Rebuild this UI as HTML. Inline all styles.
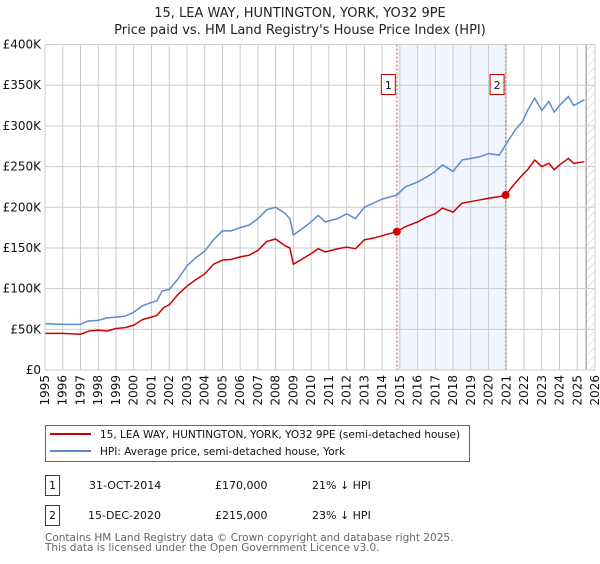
<!DOCTYPE html>
<html><head><meta charset="utf-8">
<style>
body{margin:0;background:#fff;font-family:"DejaVu Sans","Liberation Sans",sans-serif;}
svg text{font-family:"DejaVu Sans","Liberation Sans",sans-serif;}
</style></head>
<body>
<svg width="600" height="560" viewBox="0 0 600 560" xmlns="http://www.w3.org/2000/svg">
<defs>
<pattern id="hatch" width="6" height="6" patternUnits="userSpaceOnUse" patternTransform="rotate(45)">
<line x1="0" y1="0" x2="0" y2="6" stroke="#ccc" stroke-width="1"/>
</pattern>
</defs>
<text x="300" y="17" text-anchor="middle" font-size="13" fill="#222">15, LEA WAY, HUNTINGTON, YORK, YO32 9PE</text>
<text x="300" y="34" text-anchor="middle" font-size="13" fill="#222">Price paid vs. HM Land Registry's House Price Index (HPI)</text>
<g id="plot"></g>
<g id="legend">
<rect x="45.5" y="425.5" width="424" height="36" fill="#fff" stroke="#666"/>
<line x1="50" y1="434" x2="91" y2="434" stroke="#cc0000" stroke-width="2"/>
<text x="100" y="438" font-size="10.5" fill="#111">15, LEA WAY, HUNTINGTON, YORK, YO32 9PE (semi-detached house)</text>
<line x1="50" y1="451" x2="91" y2="451" stroke="#5b8bd0" stroke-width="2"/>
<text x="100" y="455" font-size="10.5" fill="#111">HPI: Average price, semi-detached house, York</text>
</g>
<g font-size="11" fill="#111">
<rect x="45.5" y="475.5" width="14" height="20" fill="#fff" stroke="#cc0000"/>
<text x="52.5" y="489" text-anchor="middle">1</text>
<text x="89" y="489">31-OCT-2014</text>
<text x="215" y="489">£170,000</text>
<text x="312" y="489">21% ↓ HPI</text>
<rect x="45.5" y="505.5" width="14" height="20" fill="#fff" stroke="#cc0000"/>
<text x="52.5" y="519" text-anchor="middle">2</text>
<text x="88" y="519">15-DEC-2020</text>
<text x="215" y="519">£215,000</text>
<text x="312" y="519">23% ↓ HPI</text>
</g>
<text x="45" y="541" font-size="10.5" fill="#666">Contains HM Land Registry data © Crown copyright and database right 2025.</text>
<text x="45" y="551" font-size="10.5" fill="#666">This data is licensed under the Open Government Licence v3.0.</text>
</svg>
<script>
const hpiYears=[1995,1996,1997,1997.4,1998,1998.5,1999,1999.5,2000,2000.5,2001,2001.3,2001.6,2002,2002.5,2003,2003.5,2004,2004.5,2005,2005.5,2006,2006.5,2007,2007.5,2008,2008.5,2008.8,2009,2009.4,2010,2010.4,2010.8,2011.5,2012,2012.5,2013,2013.5,2014,2014.83,2015.3,2016,2016.5,2017,2017.4,2018,2018.5,2019,2019.5,2020,2020.6,2021,2021.5,2021.9,2022.2,2022.6,2023,2023.4,2023.7,2024,2024.5,2024.8,2025.4];
const hpiValues=[57,56,56,60,61,64,65,66,71,79,83,85,97,99,112,128,138,146,160,171,171,175,178,186,197,200,193,186,166,172,182,190,182,186,192,186,200,205,210,215,225,231,237,244,252,244,258,260,262,266,264,278,295,305,319,334,319,330,317,325,336,325,332];
const priceYears=[1995,1996,1997,1997.5,1998,1998.5,1999,1999.5,2000,2000.5,2001,2001.3,2001.7,2002,2002.5,2003,2003.5,2004,2004.5,2005,2005.5,2006,2006.5,2007,2007.5,2008,2008.5,2008.8,2009,2009.4,2010,2010.4,2010.8,2011.5,2012,2012.5,2013,2013.5,2014.83,2015.3,2016,2016.5,2017,2017.4,2018,2018.5,2019,2019.5,2020,2020.6,2020.96,2021.4,2021.8,2022.2,2022.6,2023,2023.4,2023.7,2024,2024.5,2024.8,2025.4];
const priceValues=[45,45,44,48,49,48,51,52,55,62,65,67,77,80,93,103,111,118,130,135,136,139,141,147,158,161,153,150,130,135,143,149,145,149,151,149,160,162,170,176,182,188,192,199,194,205,207,209,211,213,215,227,237,246,258,250,254,246,252,260,254,256];
const saleYears=[2014.83,2020.96];
const saleValues=[170,215];
const saleLabels=["1","2"];
const yTicks=[0,50,100,150,200,250,300,350,400];
const yTickLabels=["£0","£50K","£100K","£150K","£200K","£250K","£300K","£350K","£400K"];
const xTicks=[1995,1996,1997,1998,1999,2000,2001,2002,2003,2004,2005,2006,2007,2008,2009,2010,2011,2012,2013,2014,2015,2016,2017,2018,2019,2020,2021,2022,2023,2024,2025,2026];

const X0=45,X1=595,Y0=370,Y1=44.5,XMIN=1995,XMAX=2026,VMAX=400;
const xs=y=>X0+(y-XMIN)/(XMAX-XMIN)*(X1-X0);
const ys=v=>Y0-v/VMAX*(Y0-Y1);
const NS="http://www.w3.org/2000/svg";
const plot=document.getElementById('plot');
function mk(tag,attrs,parent){const e=document.createElementNS(NS,tag);for(const k in attrs)e.setAttribute(k,attrs[k]);(parent||plot).appendChild(e);return e;}

let bg=mk('rect',{x:X0,y:Y1,width:X1-X0,height:Y0-Y1,fill:'#fff'});


let shade=mk('rect',{x:xs(saleYears[0]),y:Y1,width:xs(saleYears[1])-xs(saleYears[0]),height:Y0-Y1,fill:'#eef3fc',opacity:0.8});


let hatch=mk('rect',{x:xs(2025.5),y:Y1,width:X1-xs(2025.5),height:Y0-Y1,fill:'url(#hatch)'});


let hl=mk('line',{x1:xs(2025.5),x2:xs(2025.5),y1:Y1,y2:Y0,stroke:'#888'});



xTicks.forEach((t,i)=>{
  const g=mk('line',{x1:xs(t),x2:xs(t),y1:Y1,y2:Y0,stroke:'#ccc','stroke-width':1});
  
  
  const tx=mk('text',{x:0,y:0,'font-size':12,fill:'#111','text-anchor':'end',transform:`translate(${xs(t)+4},${Y0+5}) rotate(-90)`});
  tx.textContent=t;
  
  
});
yTicks.forEach((t,i)=>{
  const g=mk('line',{x1:X0,x2:X1,y1:ys(t),y2:ys(t),stroke:'#ccc','stroke-width':1});
  
  
  const tx=mk('text',{x:X0-4,y:ys(t)+4,'font-size':12,fill:'#111','text-anchor':'end'});
  tx.textContent=yTickLabels[i];
  
  
});

saleYears.forEach((s,i)=>{
  const l=mk('line',{x1:xs(s),x2:xs(s),y1:Y1,y2:Y0,stroke:'#e05555','stroke-dasharray':'2,2','stroke-width':1});
  
  
  const r=mk('rect',{x:xs(s)-15.5,y:74.5,width:14,height:20,fill:'#fff',stroke:'#cc0000'});
  
  
  const t=mk('text',{x:xs(s)-8.5,y:89,'font-size':11,'text-anchor':'middle',fill:'#111'});
  t.textContent=saleLabels[i];
  
  
});

const hp=mk('polyline',{points:hpiYears.map((y,i)=>xs(y)+','+ys(hpiValues[i])).join(' '),fill:'none',stroke:'#5b8bd0','stroke-width':1.5});


const pp=mk('polyline',{points:priceYears.map((y,i)=>xs(y)+','+ys(priceValues[i])).join(' '),fill:'none',stroke:'#cc0000','stroke-width':1.5});


saleYears.forEach((s,i)=>{
  const c=mk('circle',{cx:xs(s),cy:ys(saleValues[i]),r:4,fill:'#cc0000'});
  
  
});
const border=mk('rect',{x:X0,y:Y1,width:X1-X0,height:Y0-Y1,fill:'none',stroke:'#ccc'});


</script>
</body></html>
